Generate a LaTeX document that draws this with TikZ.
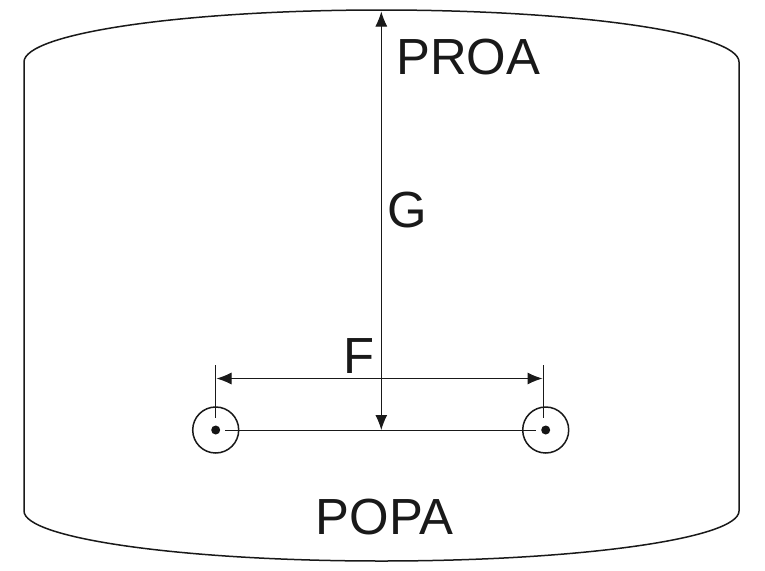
\documentclass[tikz,border=0pt]{standalone}
\usepackage{fontspec}
\setmainfont{Liberation Sans}
\usetikzlibrary{arrows.meta}
\tikzset{
  x=1pt,y=-1pt,
  hull/.style={draw=black!90,line width=1.5pt},
  thinline/.style={draw=black!90,line width=1pt},
  dimline/.style={thinline,{Latex[length=15pt,width=12pt]}-{Latex[length=15pt,width=12pt]}},
  lab/.style={font=\fontsize{50.8}{51}\selectfont,text=black!90,inner sep=0pt},
  ring/.style={circle,draw=black!90,line width=1.5pt,minimum size=46pt,inner sep=0pt},
  hub/.style={circle,fill=black!92,minimum size=9pt,inner sep=0pt}
}
\begin{document}
\begin{tikzpicture}
\useasboundingbox[fill=white] (0,0) rectangle (765,570);
\draw[hull] (24,62) .. controls (24,33.3) and (183.6,10) .. (381.5,10)
  .. controls (579.4,10) and (739,33.3) .. (739,62)
  -- (739,511) .. controls (739,538.5) and (579.4,561) .. (381.5,561)
  .. controls (183.6,561) and (24,538.5) .. (24,511) -- cycle;
\node[ring] (ringL) at (215.7,430) {};
\node[ring] (ringR) at (545.7,430) {};
\node[hub] (hubL) at (215.7,430) {};
\node[hub] (hubR) at (545.7,430) {};
\coordinate (shaftL) at (225,430.3);
\coordinate (shaftR) at (536,430.3);
\coordinate (mid) at (381.3,430);
\coordinate (top) at (381.3,11.5);
\coordinate (extLa) at (215.7,365);
\coordinate (extLb) at (215.7,418);
\coordinate (extRa) at (543,365);
\coordinate (extRb) at (543,418);
\coordinate (dimL) at (216.5,378.5);
\coordinate (dimR) at (542.5,378.5);
\draw[thinline] (shaftL) -- (shaftR);
\draw[thinline] (extLa) -- (extLb);
\draw[thinline] (extRa) -- (extRb);
\draw[dimline] (dimL) -- (dimR);
\draw[dimline] (top) -- (mid);
\node[lab,anchor=base west] (proa) at (396,74) {PROA};
\node[lab,anchor=base west] (g) at (387,227) {G};
\node[lab,anchor=base west] (f) at (343.5,373) {F};
\node[lab,anchor=base west] (popa) at (315.5,534) {POPA};
\end{tikzpicture}
\end{document}
